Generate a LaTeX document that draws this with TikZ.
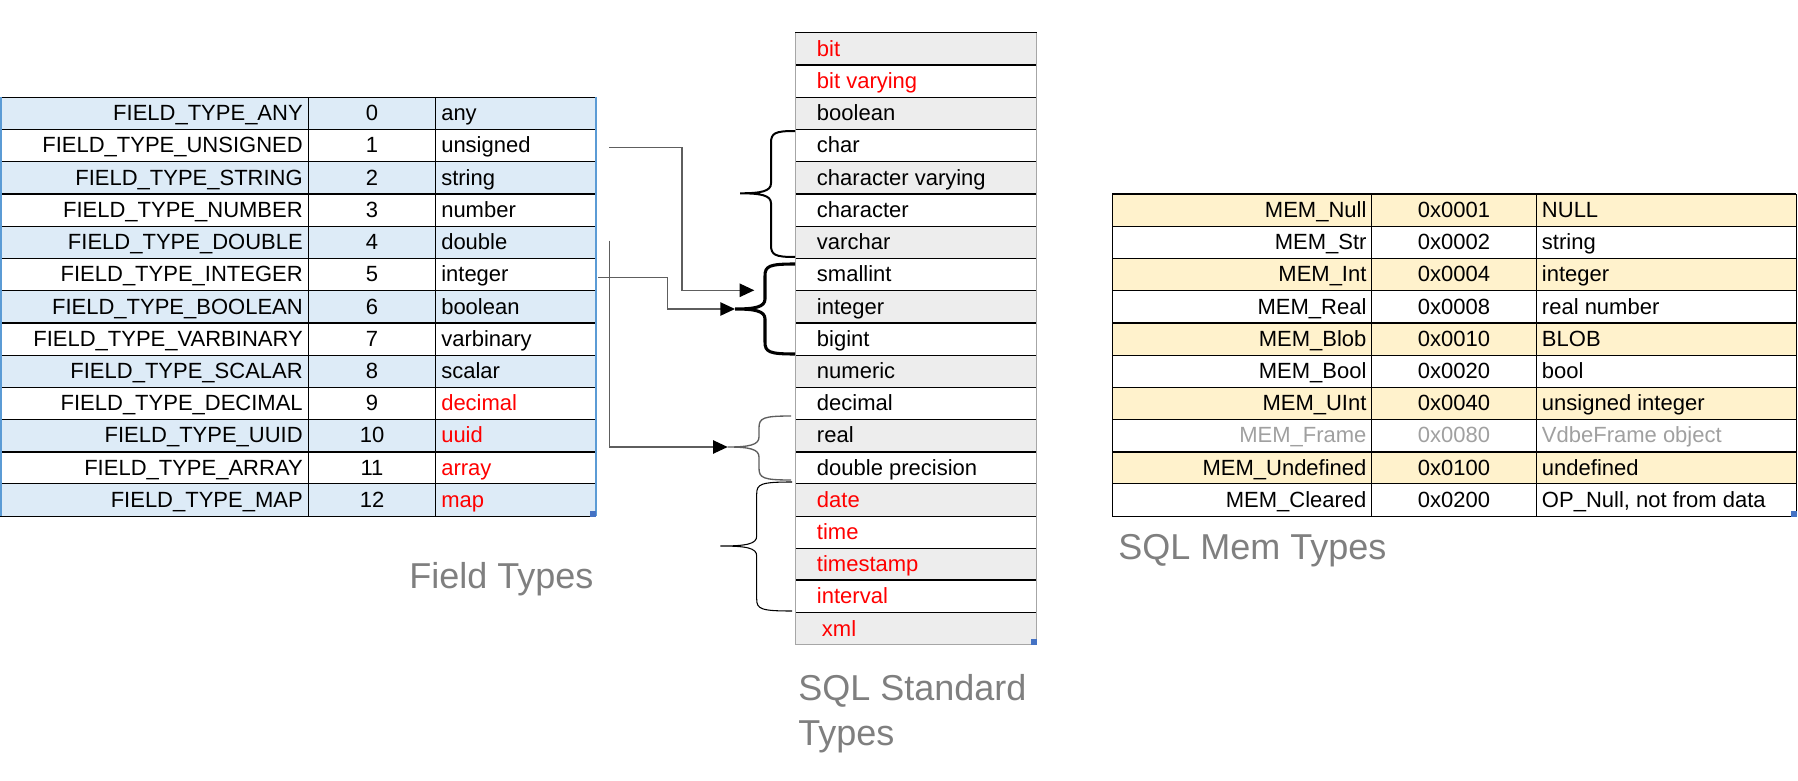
\documentclass[tikz,border=0pt]{standalone}
\usepackage{fontspec}
\setmainfont{Liberation Sans}
\usetikzlibrary{arrows.meta}
\definecolor{fblue}{HTML}{DDEBF7}
\definecolor{fyellow}{HTML}{FFF2CC}
\definecolor{fgray}{HTML}{EDEDED}
\definecolor{xred}{HTML}{FF0000}
\definecolor{bblue}{HTML}{5B9BD5}
\definecolor{hblue}{HTML}{4472C4}
\definecolor{tgray}{HTML}{7F7F7F}
\definecolor{lgray}{HTML}{A6A6A6}
\definecolor{memgray}{HTML}{A0A0A0}
\definecolor{cgray}{HTML}{5E5E5E}
\newcommand\bracedraw[7]{%
  \draw[#1] (#2,#3) .. controls ({#4+4},#3) and (#4,{#3+2}) .. (#4,{#3+12})
    -- (#4,{#6-10}) .. controls (#4,{#6-2}) and ({#4-10},#6) .. (#5,#6)
    .. controls ({#4-10},#6) and (#4,{#6+2}) .. (#4,{#6+10})
    -- (#4,{#7-12}) .. controls (#4,{#7-2}) and ({#4+4},#7) .. (#2,#7);}
\begin{document}
\begin{tikzpicture}[x=0.75pt,y=-0.75pt,
  cell/.style={inner sep=0pt, anchor=base, font=\fontsize{16.5}{20}\selectfont},
  cellL/.style={cell, anchor=base west},
  cellR/.style={cell, anchor=base east},
  title/.style={inner sep=0pt, anchor=base west, text=tgray, font=\fontsize{27}{34}\selectfont},
  rule/.style={line width=0.75pt, black},
  thickrule/.style={line width=1.6pt, black},
  conn/.style={line width=1.1pt, cgray, -{Triangle[length=11pt,width=10pt,color=black]}},
  handle/.style={fill=hblue, draw=none}]
\useasboundingbox (0,0) rectangle (1798,781);

% ---------------- fills
\foreach \k in {0,2,...,12}
  \fill[fblue] (0,{97.4+32.2*\k}) rectangle (595.7,{97.4+32.2*(\k+1)});
\foreach \k in {0,2,...,18}
  \fill[fgray] (795.3,{33+32.2*\k}) rectangle (1036.7,{33+32.2*(\k+1)});
\foreach \k in {0,2,...,8}
  \fill[fyellow] (1112.3,{194+32.2*\k}) rectangle (1796,{194+32.2*(\k+1)});

% ---------------- left table grid
\foreach \j in {0,1,2,4,5,6,8,9,10,12,13}
  \draw[rule] (0,{97.4+32.2*\j}) -- (595.7,{97.4+32.2*\j});
\foreach \j in {3,7,11}
  \draw[thickrule] (0,{97.4+32.2*\j}) -- (595.7,{97.4+32.2*\j});
\draw[rule] (308.7,97.4) -- (308.7,516);
\draw[rule] (435.7,97.4) -- (435.7,516);
\draw[line width=1.2pt, bblue] (0.8,97.4) -- (0.8,516);
\draw[line width=1.2pt, bblue] (595.7,97.4) -- (595.7,516);
\fill[handle] (590,510.5) rectangle (596,516.5);

% ---------------- middle table grid
\foreach \j in {0,2,3,4,6,7,8,10,11,12,14,15,16,18}
  \draw[rule] (795.3,{33+32.2*\j}) -- (1036.7,{33+32.2*\j});
\foreach \j in {1,5,9,13,17}
  \draw[thickrule] (795.3,{33+32.2*\j}) -- (1036.7,{33+32.2*\j});
\draw[line width=1pt, lgray] (795.3,33) -- (795.3,644.8) -- (1036.7,644.8) -- (1036.7,33);
\fill[handle] (1031,639) rectangle (1036.7,644.8);

% ---------------- right table grid
\foreach \j in {1,2,3,5,6,7,9,10}
  \draw[rule] (1112.3,{194+32.2*\j}) -- (1796,{194+32.2*\j});
\foreach \j in {0,4,8}
  \draw[thickrule] (1112.3,{194+32.2*\j}) -- (1796,{194+32.2*\j});
\draw[rule] (1112.3,194) -- (1112.3,516);
\draw[rule] (1371.7,194) -- (1371.7,516);
\draw[rule] (1536,194) -- (1536,516);
\draw[rule] (1796,194) -- (1796,516);
\fill[handle] (1790.5,510.5) rectangle (1796.5,516.5);

% ---------------- left table text
\foreach \k/\a/\b/\c/\cl in {
  0/FIELD\_TYPE\_ANY/0/any/black,
  1/FIELD\_TYPE\_UNSIGNED/1/unsigned/black,
  2/FIELD\_TYPE\_STRING/2/string/black,
  3/FIELD\_TYPE\_NUMBER/3/number/black,
  4/FIELD\_TYPE\_DOUBLE/4/double/black,
  5/FIELD\_TYPE\_INTEGER/5/integer/black,
  6/FIELD\_TYPE\_BOOLEAN/6/boolean/black,
  7/FIELD\_TYPE\_VARBINARY/7/varbinary/black,
  8/FIELD\_TYPE\_SCALAR/8/scalar/black,
  9/FIELD\_TYPE\_DECIMAL/9/decimal/xred,
  10/FIELD\_TYPE\_UUID/10/uuid/xred,
  11/FIELD\_TYPE\_ARRAY/11/array/xred,
  12/FIELD\_TYPE\_MAP/12/map/xred}{
  \node[cellR] (fn\k) at (303,{97.4+32.2*\k+23.4}) {\a};
  \node[cell] (fv\k) at (372,{97.4+32.2*\k+23.4}) {\b};
  \node[cellL,text=\cl] (fd\k) at (441,{97.4+32.2*\k+23.4}) {\c};
}

% ---------------- middle table text
\foreach \k/\t/\cl/\xx in {
  0/bit/xred/816.7,
  1/bit varying/xred/816.7,
  2/boolean/black/816.7,
  3/char/black/816.7,
  4/character varying/black/816.7,
  5/character/black/816.7,
  6/varchar/black/816.7,
  7/smallint/black/816.7,
  8/integer/black/816.7,
  9/bigint/black/816.7,
  10/numeric/black/816.7,
  11/decimal/black/816.7,
  12/real/black/816.7,
  13/double precision/black/816.7,
  14/date/xred/816.7,
  15/time/xred/816.7,
  16/timestamp/xred/816.7,
  17/interval/xred/816.7,
  18/xml/xred/821.7}{
  \node[cellL,text=\cl] (st\k) at (\xx,{33+32.2*\k+23.4}) {\t};
}

% ---------------- right table text
\foreach \k/\a/\b/\c/\cl in {
  0/MEM\_Null/0x0001/NULL/black,
  1/MEM\_Str/0x0002/string/black,
  2/MEM\_Int/0x0004/integer/black,
  3/MEM\_Real/0x0008/real number/black,
  4/MEM\_Blob/0x0010/BLOB/black,
  5/MEM\_Bool/0x0020/bool/black,
  6/MEM\_UInt/0x0040/unsigned integer/black,
  7/MEM\_Frame/0x0080/VdbeFrame object/memgray,
  8/MEM\_Undefined/0x0100/undefined/black,
  9/MEM\_Cleared/0x0200/{OP\_Null, not from data}/black}{
  \node[cellR,text=\cl] (mn\k) at (1366.7,{194+32.2*\k+23.4}) {\a};
  \node[cell,text=\cl] (mv\k) at (1454,{194+32.2*\k+23.4}) {\b};
  \node[cellL,text=\cl] (md\k) at (1541.7,{194+32.2*\k+23.4}) {\c};
}

% ---------------- titles
\node[title] (tfield) at (409,588) {Field Types};
\node[title] (tstd1) at (798,700) {SQL Standard};
\node[title] (tstd2) at (798,745.7) {Types};
\node[title] (tmem) at (1118,559) {SQL Mem Types};

% ---------------- braces
\bracedraw{line width=1.5pt, black}{795}{131}{771}{740}{193.3}{257}
\bracedraw{line width=2.3pt, black}{795}{264}{765}{735}{309}{354}
\bracedraw{line width=1pt, cgray}{791}{416}{759}{727.7}{447}{480}
\bracedraw{line width=0.8pt, black}{792}{482}{756.7}{720.3}{546}{611}

% ---------------- connectors
\coordinate (c1s) at (609.3,147.7);
\coordinate (c1j) at (682,290.3);
\coordinate (c1e) at (754.3,290.3);
\coordinate (c2s) at (598.3,277.7);
\coordinate (c2j) at (667.3,309);
\coordinate (tipB) at (735,309);
\coordinate (c3s) at (609.3,240.7);
\coordinate (tipC) at (727.7,447);
\draw[conn] (c1s) -| (c1j) -- (c1e);
\draw[conn] (c2s) -| (c2j) -- (tipB);
\draw[conn] (c3s) |- (tipC);
\end{tikzpicture}
\end{document}
